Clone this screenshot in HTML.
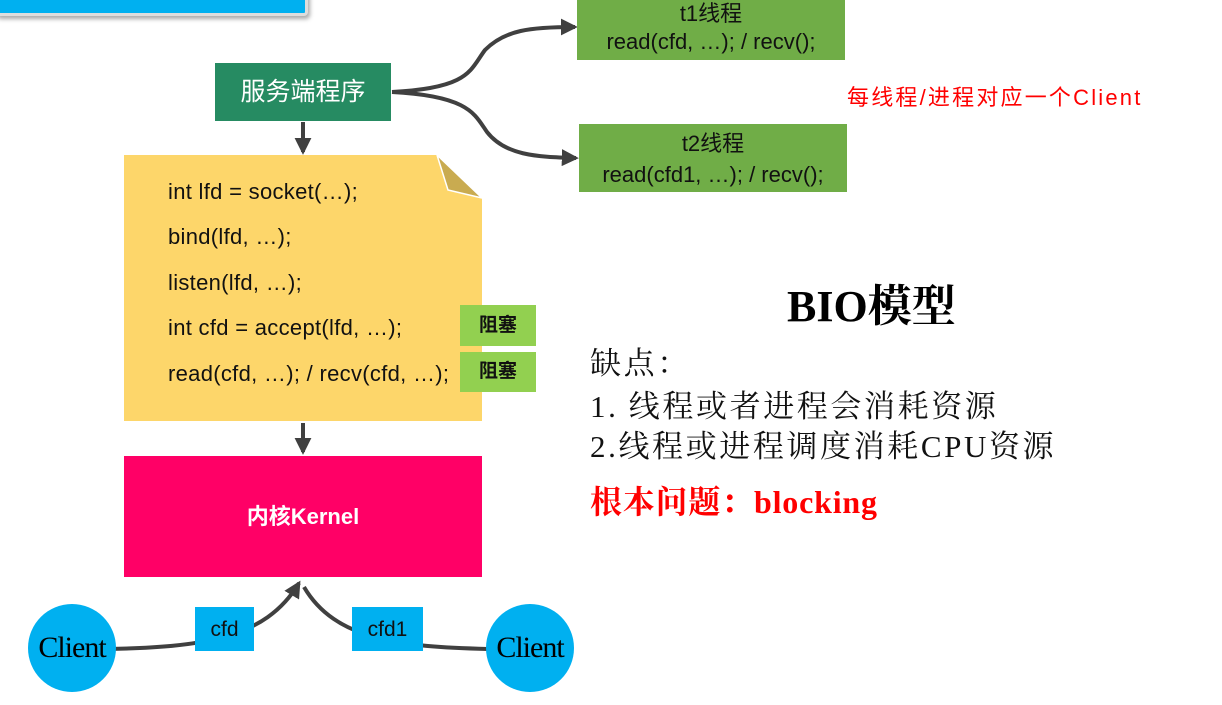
<!DOCTYPE html>
<html><head><meta charset="utf-8"><style>
body{margin:0;width:1222px;height:705px;background:#fff;position:relative;overflow:hidden;font-family:"Liberation Sans","Noto Sans CJK SC",sans-serif}
.a{position:absolute}
.code{position:absolute;left:168px;font-size:22px;color:#111;white-space:nowrap;letter-spacing:0.3px}
.blk{position:absolute;left:460px;width:76px;background:#92d050;font-size:19px;font-weight:bold;text-align:center;color:#111}
.ser{font-family:"Liberation Serif","Noto Serif CJK SC",serif;position:absolute;left:590px;font-size:31px;color:#111;white-space:nowrap;letter-spacing:2.6px}
</style></head><body>
<div class="a" style="left:-5px;top:-10px;width:307px;height:20px;background:#00b0f0;border:3px solid #ddd;border-radius:4px;box-shadow:2px 3px 4px #aaa"></div>
<svg class="a" style="left:0;top:0" width="1222" height="705">
<defs><marker id="ar" viewBox="0 0 12 12" markerWidth="17" markerHeight="17" refX="10" refY="6" orient="auto" markerUnits="userSpaceOnUse"><path d="M0,0L12,6L0,12z" fill="#404040"/></marker></defs>
<polygon points="124,155 437,155 482,198 482,421 124,421" fill="#fdd66a"/>
<polygon points="437,155 448,190 482,198" fill="#c9ab50" stroke="#fff" stroke-width="1.5"/>
<g stroke="#404040" stroke-width="4" fill="none">
<line x1="303" y1="122" x2="303" y2="152" marker-end="url(#ar)"/>
<line x1="303" y1="423" x2="303" y2="452" marker-end="url(#ar)"/>
<path d="M392,92 C470,88 470,70 485,50 C505,30 530,27 575,27" marker-end="url(#ar)"/>
<path d="M392,92 C470,96 475,115 487,132 C505,155 535,157 576,158" marker-end="url(#ar)"/>
<path d="M108,649 C200,647 265,640 299,583" marker-end="url(#ar)"/>
<path d="M488,649 C400,647 335,640 304,587"/>
</g>
</svg>
<div class="a" style="left:215px;top:63px;width:176px;height:58px;background:#268b62;color:#fff;font-size:25px;line-height:58px;text-align:center">服务端程序</div>
<div class="code" style="top:179px">int lfd = socket(…);</div>
<div class="code" style="top:224px">bind(lfd, …);</div>
<div class="code" style="top:270px">listen(lfd, …);</div>
<div class="code" style="top:315px">int cfd = accept(lfd, …);</div>
<div class="code" style="top:361px">read(cfd, …); / recv(cfd, …);</div>
<div class="blk" style="top:305px;height:41px;line-height:41px">阻塞</div>
<div class="blk" style="top:352px;height:40px;line-height:40px">阻塞</div>
<div class="a" style="left:124px;top:456px;width:358px;height:121px;background:#ff0066;color:#fff;font-size:22px;font-weight:bold;line-height:121px;text-align:center">内核Kernel</div>
<div class="a" style="left:28px;top:604px;width:88px;height:88px;border-radius:50%;background:#00b0f0;font-family:'Liberation Serif',serif;font-size:30px;line-height:88px;text-align:center;color:#000;letter-spacing:-1px">Client</div>
<div class="a" style="left:486px;top:604px;width:88px;height:88px;border-radius:50%;background:#00b0f0;font-family:'Liberation Serif',serif;font-size:30px;line-height:88px;text-align:center;color:#000;letter-spacing:-1px">Client</div>
<div class="a" style="left:195px;top:607px;width:59px;height:44px;background:#00b0f0;font-size:21px;line-height:46px;text-align:center;color:#111">cfd</div>
<div class="a" style="left:352px;top:607px;width:71px;height:44px;background:#00b0f0;font-size:21px;line-height:46px;text-align:center;color:#111">cfd1</div>
<div class="a" style="left:577px;top:0;width:268px;height:60px;background:#70ad47;font-size:22px;line-height:28px;text-align:center;color:#111;box-sizing:border-box">t1线程<br>read(cfd, …); / recv();</div>
<div class="a" style="left:579px;top:124px;width:268px;height:68px;background:#70ad47;font-size:22px;line-height:31px;text-align:center;color:#111;padding-top:4px;box-sizing:border-box">t2线程<br>read(cfd1, …); / recv();</div>
<div class="a" style="left:847px;top:80px;font-size:22px;color:#f00;white-space:nowrap;letter-spacing:2.2px">每线程/进程对应一个Client</div>
<div class="a" style="left:787px;top:270px;font-family:'Liberation Serif','Noto Serif CJK SC',serif;font-weight:bold;font-size:44px;color:#000;white-space:nowrap">BIO模型</div>
<div class="ser" style="top:338px">缺点：</div>
<div class="ser" style="top:381px">1. 线程或者进程会消耗资源</div>
<div class="ser" style="top:421px">2.线程或进程调度消耗CPU资源</div>
<div class="ser" style="top:477px;color:#f00;font-weight:bold;font-size:32px;letter-spacing:0.8px">根本问题：blocking</div>
</body></html>
